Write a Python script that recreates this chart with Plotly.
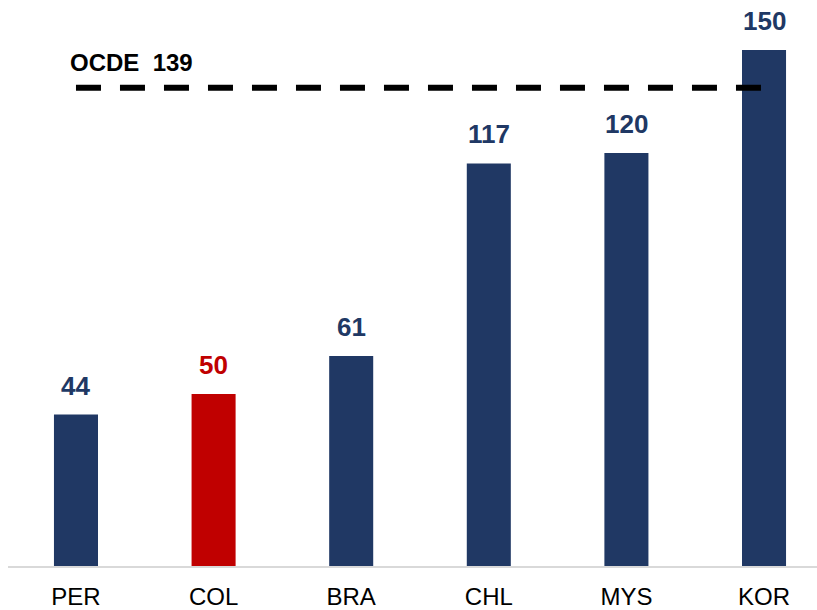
import plotly.graph_objects as go

categories = ["PER", "COL", "BRA", "CHL", "MYS", "KOR"]
values = [44, 50, 61, 117, 120, 150]
highlight = "COL"
ocde_value = 139
ocde_label = "OCDE\u00a0\u00a0139"

NAVY = "#203864"
RED = "#C00000"
colors = [RED if c == highlight else NAVY for c in categories]

fig = go.Figure()
fig.add_trace(go.Bar(
    x=categories, y=values, marker=dict(color=colors, line=dict(width=0)),
    width=0.32, hoverinfo="skip", showlegend=False,
))
fig.add_trace(go.Scatter(
    x=[categories[0], categories[-1]], y=[ocde_value, ocde_value], mode="lines",
    line=dict(color="black", width=6, dash="25px,19px"),
    hoverinfo="skip", showlegend=False,
))

for c, v, col in zip(categories, values, colors):
    fig.add_annotation(x=c, y=v, text=f"<b>{v}</b>", showarrow=False,
                       yanchor="bottom", yshift=12,
                       font=dict(family="Liberation Sans, Arial", size=26, color=col))

fig.add_annotation(x=-0.055, y=ocde_value, xref="x", yref="y", text=f"<b>{ocde_label}</b>",
                   showarrow=False, xanchor="left", yanchor="bottom", yshift=10,
                   font=dict(family="Liberation Sans, Arial", size=24, color="black"))

fig.update_layout(
    width=817, height=610,
    margin=dict(l=8, r=0, t=0, b=44),
    paper_bgcolor="white", plot_bgcolor="white",
    font=dict(family="Liberation Sans, Arial", size=24, color="black"),
    xaxis=dict(range=[-0.494, 5.385], showgrid=False, showline=True,
               linecolor="#d9d9d9", linewidth=2, ticks="outside", ticklen=8,
               tickcolor="rgba(0,0,0,0)", tickfont=dict(size=24, color="black")),
    yaxis=dict(range=[0, 164.5], visible=False, showgrid=False, zeroline=False),
)

fig.write_html("out.html", config={"displayModeBar": False},
               post_script="document.body.style.margin='0';document.body.style.overflow='hidden';")
